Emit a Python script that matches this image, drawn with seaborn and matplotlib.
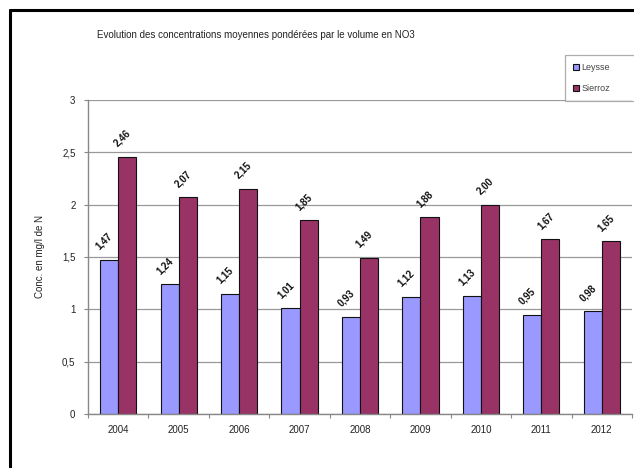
import matplotlib
matplotlib.use("Agg")
import matplotlib.pyplot as plt
import seaborn as sns
import pandas as pd
from matplotlib.lines import Line2D

years = ["2004", "2005", "2006", "2007", "2008", "2009", "2010", "2011", "2012"]
leysse = [1.47, 1.24, 1.15, 1.01, 0.93, 1.12, 1.13, 0.95, 0.98]
sierroz = [2.46, 2.07, 2.15, 1.85, 1.49, 1.88, 2.00, 1.67, 1.65]
series = ["Leysse", "Sierroz"]
colors = ["#9999FF", "#993366"]
yticks = [0, 0.5, 1, 1.5, 2, 2.5, 3]
ytick_labels = ["0", "0,5", "1", "1,5", "2", "2,5", "3"]
title = "Evolution des concentrations moyennes pondérées par le volume en NO3"
ylabel = "Conc. en mg/l de N"

df = pd.DataFrame({
    "Année": years * 2,
    "Valeur": leysse + sierroz,
    "Série": ["Leysse"] * len(years) + ["Sierroz"] * len(years),
})

sns.set_theme(style="white")
plt.rcParams["font.family"] = ["Liberation Sans", "DejaVu Sans"]

fig = plt.figure(figsize=(6.34, 4.68), dpi=100)
ax = fig.add_axes([88 / 634, 1 - 414 / 468, (632 - 88) / 634, (414 - 100) / 468])

sns.barplot(data=df, x="Année", y="Valeur", hue="Série", hue_order=series,
            palette=colors, width=0.6, edgecolor="#111111", linewidth=0.8,
            saturation=1, ax=ax, legend=False)

ax.set_ylim(0, 3)
ax.set_xlim(-0.5, len(years) - 0.5)
ax.set_yticks(yticks)
ax.set_yticklabels(ytick_labels, fontsize=7, color="#222222")
ax.set_xticks(range(len(years)))
ax.set_xticklabels(years, fontsize=7, color="#222222")
ax.tick_params(axis="x", length=0, pad=8)
ax.tick_params(axis="y", length=3, width=0.8, color="#888888", pad=6, left=True)
ax.set_xticks([i + 0.5 for i in range(-1, len(years))], minor=True)
ax.tick_params(axis="x", which="minor", length=3, width=0.8, color="#888888", bottom=True)

ax.yaxis.grid(True, color="#999999", linewidth=0.9)
ax.set_axisbelow(True)
for s in ["top", "right"]:
    ax.spines[s].set_visible(False)
for s in ["left", "bottom"]:
    ax.spines[s].set_color("#888888")
    ax.spines[s].set_linewidth(1.0)

ax.set_xlabel("")
ax.set_ylabel(ylabel, fontsize=7, color="#222222", labelpad=12)

for cont in ax.containers:
    for bar in cont:
        h = bar.get_height()
        x = bar.get_x()
        ax.annotate(f"{h:.2f}".replace(".", ","), (x + bar.get_width() * 0.05, h),
                    xytext=(0, 6), textcoords="offset points",
                    rotation=45, rotation_mode="anchor", ha="left", va="bottom",
                    fontsize=7, fontweight="bold", color="#111111")

fig.text(97 / 634, 1 - 35 / 468, title, fontsize=7, color="#222222", va="center", ha="left")

handles = [plt.Rectangle((0, 0), 1, 1, facecolor=c, edgecolor="#111111", linewidth=0.8) for c in colors]
leg = fig.legend(handles, series, loc="upper left", mode="expand",
                 bbox_to_anchor=(565 / 634, 1 - 101 / 468, 90 / 634, 46 / 468),
                 fontsize=6.5, frameon=True, fancybox=False, handlelength=0.7, handleheight=0.7,
                 handletextpad=0.2, labelspacing=1.3, borderpad=0.9, borderaxespad=0)
leg.get_frame().set_edgecolor("#999999")
leg.get_frame().set_linewidth(0.9)
for t in leg.get_texts():
    t.set_color("#444444")

fig.add_artist(Line2D([10 / 634, 1.0], [1 - 10 / 468, 1 - 10 / 468], color="black", linewidth=2.2, transform=fig.transFigure))
fig.add_artist(Line2D([10 / 634, 10 / 634], [0, 1 - 10 / 468], color="black", linewidth=2.2, transform=fig.transFigure))

fig.savefig("out.png", dpi=100)
